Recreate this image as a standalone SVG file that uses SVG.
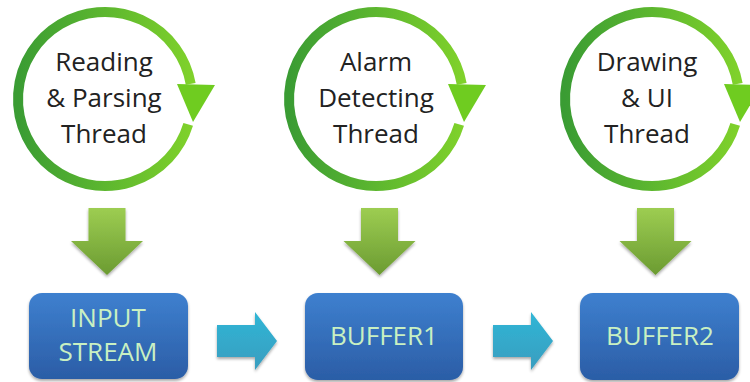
<svg xmlns="http://www.w3.org/2000/svg" width="750" height="382" viewBox="0 0 750 382">
  <defs>
    <linearGradient id="ringGrad" x1="0" y1="0" x2="1" y2="0">
      <stop offset="0" stop-color="#3a9c33"/>
      <stop offset="1" stop-color="#7fd12b"/>
    </linearGradient>
    <linearGradient id="downGrad" x1="0" y1="0" x2="0" y2="1">
      <stop offset="0" stop-color="#9dcd52"/>
      <stop offset="1" stop-color="#6b9b31"/>
    </linearGradient>
    <linearGradient id="boxGrad" x1="0" y1="0" x2="0" y2="1">
      <stop offset="0" stop-color="#3e80cf"/>
      <stop offset="1" stop-color="#2b5da6"/>
    </linearGradient>
    <linearGradient id="rightGrad" x1="0" y1="0" x2="0" y2="1">
      <stop offset="0" stop-color="#2fb6d6"/>
      <stop offset="1" stop-color="#3a9dbf"/>
    </linearGradient>
    <filter id="shadow" x="-10%" y="-10%" width="125%" height="130%">
      <feGaussianBlur in="SourceAlpha" stdDeviation="1.5"/>
      <feOffset dx="0" dy="2" result="b"/>
      <feComponentTransfer><feFuncA type="linear" slope="0.35"/></feComponentTransfer>
      <feMerge><feMergeNode/><feMergeNode in="SourceGraphic"/></feMerge>
    </filter>
    <g id="cycle">
      <path d="M83.2,25.4 A87,87 0 1 1 85.7,-15.1" fill="none" stroke="url(#ringGrad)" stroke-width="10"/>
      <polygon points="72,-15 110,-14 88,23" fill="#6fcc20"/>
    </g>
    <path id="down" d="M-18.5,208 H18.5 V241 H36 L0,275 L-36,241 H-18.5 Z"/>
    <path id="right" d="M0,325 H38 V312 L60,341 L38,370 V357 H0 Z"/>
  </defs>
  <style>
    .ct { font-family: "Open Sans", "Liberation Sans", sans-serif; font-size: 26px; fill: #222; text-anchor: middle; }
    .bt { font-family: "Open Sans", "Liberation Sans", sans-serif; font-size: 26px; fill: #c9f0c2; text-anchor: middle; }
    .box { fill: url(#boxGrad); filter: url(#shadow); }
    .dn { fill: url(#downGrad); filter: url(#shadow); }
    .rt { fill: url(#rightGrad); filter: url(#shadow); }
  </style>

  <g id="thread1">
    <use href="#cycle" transform="translate(105,99)"/>
    <text class="ct" x="104" y="71">Reading</text>
    <text class="ct" x="104" y="107">&amp; Parsing</text>
    <text class="ct" x="104" y="143">Thread</text>
  </g>
  <g id="thread2">
    <use href="#cycle" transform="translate(376,99)"/>
    <text class="ct" x="376" y="71">Alarm</text>
    <text class="ct" x="376" y="107">Detecting</text>
    <text class="ct" x="376" y="143">Thread</text>
  </g>
  <g id="thread3">
    <use href="#cycle" transform="translate(652,99)"/>
    <text class="ct" x="647" y="71">Drawing</text>
    <text class="ct" x="647" y="107">&amp; UI</text>
    <text class="ct" x="647" y="143">Thread</text>
  </g>

  <g id="input-stream">
    <rect class="box" x="29" y="293" width="159" height="86" rx="13"/>
    <text class="bt" x="108" y="327">INPUT</text>
    <text class="bt" x="108" y="361">STREAM</text>
  </g>
  <g id="buffer1">
    <rect class="box" x="305" y="293" width="158" height="87" rx="13"/>
    <text class="bt" x="384" y="345">BUFFER1</text>
  </g>
  <g id="buffer2">
    <rect class="box" x="580" y="293" width="159" height="87" rx="13"/>
    <text class="bt" x="660" y="345">BUFFER2</text>
  </g>

  <g id="connectors">
    <use href="#down" class="dn" transform="translate(107,0)"/>
    <use href="#down" class="dn" transform="translate(379.5,0)"/>
    <use href="#down" class="dn" transform="translate(655.5,0)"/>
    <use href="#right" class="rt" transform="translate(217,0)"/>
    <use href="#right" class="rt" transform="translate(493,0)"/>
  </g>
</svg>
